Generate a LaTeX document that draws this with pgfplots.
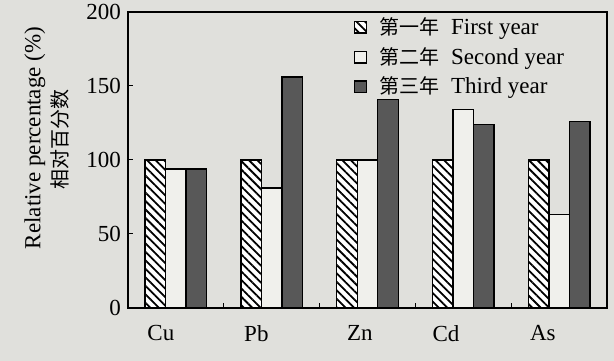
\documentclass[border=0pt]{standalone}
\usepackage{fontspec}
\setmainfont{Liberation Serif}
\newfontfamily\cjk{Noto Sans CJK SC}
\usepackage{pgfplots}
\pgfplotsset{compat=1.18}
\usetikzlibrary{patterns.meta,backgrounds,calc}
\definecolor{bg}{RGB}{224,224,220}
\definecolor{darkbar}{RGB}{88,88,88}
\definecolor{lightbar}{RGB}{240,240,236}
\begin{document}
\begin{tikzpicture}
\begin{axis}[name=ax, scale only axis, width=239.5pt, height=148pt,
  font=\fontsize{11.5}{13}\selectfont,
  /pgf/number format/assume math mode=true,
  xmin=-0.5, xmax=4.5, ymin=0, ymax=200,
  ybar=0pt, bar width=0.215,
  xtick={0.5,1.5,2.5,3.5}, xticklabels={},
  extra x ticks={-0.157,0.84,1.92,2.82,3.83},
  extra x tick labels={Cu,Pb,Zn,Cd,As},
  extra x tick style={major tick length=0pt, tick label style={yshift=-5pt}},
  ytick={0,50,100,150,200},
  tick align=inside, xtick pos=bottom, ytick pos=left,
  major tick length=2.5pt,
  axis line style={line width=0.6pt},
  tick style={line width=0.5pt, black},
  legend style={draw=none, fill=none, at={(0.467,1.004)}, anchor=north west,
    font=\fontsize{11.5}{13}\selectfont, row sep=1pt, inner sep=1pt},
  legend cell align=left,
  legend image code/.code={\draw[#1] (0pt,-2.9pt) rectangle (5.8pt,2.9pt);},
]
\addplot[draw=black, line width=0.7pt, fill=white,
  postaction={pattern={Lines[angle=-45,distance=3pt,line width=0.9pt]}},
  bar shift=-0.215] coordinates {(0,100) (1,100) (2,100) (3,100) (4,100)};
\addlegendentry{\hspace*{4pt}{\cjk\fontsize{10}{12}\selectfont 第一年}\hspace{6pt}First year}
\addplot[draw=black, line width=0.7pt, fill=lightbar,
  bar shift=0] coordinates {(0,94) (1,81) (2,100) (3,134) (4,63)};
\addlegendentry{\hspace*{4pt}{\cjk\fontsize{10}{12}\selectfont 第二年}\hspace{6pt}Second year}
\addplot[draw=black, line width=0.7pt, fill=darkbar,
  bar shift=0.215] coordinates {(0,94) (1,156) (2,141) (3,124) (4,126)};
\addlegendentry{\hspace*{4pt}{\cjk\fontsize{10}{12}\selectfont 第三年}\hspace{6pt}Third year}
\end{axis}
\node[rotate=90, inner sep=0pt, font=\fontsize{11.5}{13}\selectfont]
  at ($(ax.south west)+(-46.5pt,85pt)$) {Relative percentage (\%)};
\node[rotate=90, inner sep=0pt, font=\cjk\fontsize{10}{12}\selectfont]
  at ($(ax.south west)+(-34pt,84pt)$) {相对百分数};
\begin{pgfonlayer}{background}
\fill[bg] ($(ax.south west)+(-64pt,-26.5pt)$) rectangle ($(ax.north east)+(3.5pt,6pt)$);
\end{pgfonlayer}
\pgfresetboundingbox
\path ($(ax.south west)+(-64pt,-26.5pt)$) rectangle ($(ax.north east)+(3.5pt,6pt)$);
\end{tikzpicture}
\end{document}
